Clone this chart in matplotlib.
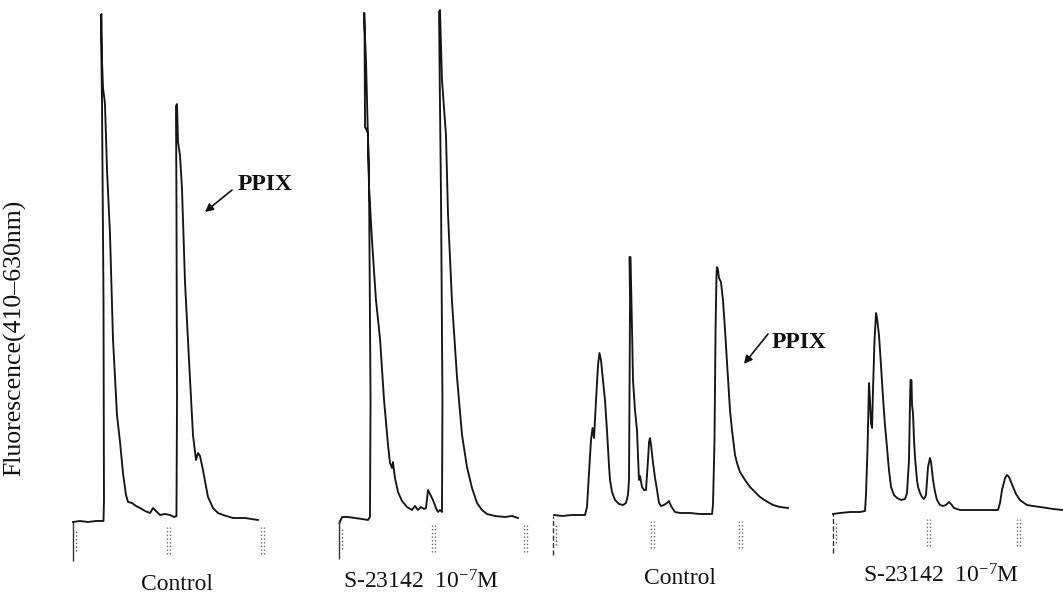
import matplotlib
matplotlib.use("Agg")
import matplotlib.pyplot as plt

plt.rcParams['font.family'] = ['Liberation Serif', 'DejaVu Serif']
plt.rcParams['mathtext.fontset'] = 'custom'
plt.rcParams['mathtext.rm'] = 'Liberation Serif'
plt.rcParams['mathtext.it'] = 'Liberation Serif:italic'

# --- data (time in min, fluorescence in arbitrary units) ---

# panel 1: control
t1 = [0, 0.74, 1.58, 2.42, 3.21, 3.26, 3.21, 3.05, 2.93, 3.0, 3.05, 3.16, 3.32, 3.37,
      3.58, 3.89, 4.21, 4.63, 4.95, 5.26, 5.58, 5.79, 6.21, 6.63, 7.05, 7.58, 8.11,
      8.42, 8.74, 9.16, 9.68, 10.21, 10.63, 10.89, 10.95, 10.89, 10.84, 10.95, 11.05,
      11.26, 11.47, 11.79, 12.21, 12.63, 12.95, 13.16, 13.37, 13.68, 14.21, 14.74,
      15.26, 15.79, 16.84, 18.11, 19.47]
f1 = [-0.2, 0, -0.2, 0, 0, 4.2, 44.2, 84.2, 101.2, 101.4, 92.2, 86.6, 84.2, 83.2,
      70.2, 57.6, 36.4, 21.2, 15.8, 9.6, 5.2, 3.8, 3.6, 3.0, 2.6, 2.0, 1.6,
      2.6, 2.0, 1.2, 1.4, 1.2, 0.8, 1.0, 24.2, 64.2, 83.0, 83.4, 75.8,
      73.2, 66.6, 47.8, 32.2, 17.2, 12.2, 13.6, 13.0, 10.2, 4.8, 2.6,
      1.6, 1.2, 0.6, 0.6, 0.2]
marks1 = [0, 10.0, 19.9]

# panel 2: S-23142 10^-7 M
t2 = [0.05, 0.32, 0.95, 1.68, 2.42, 3.05, 3.26, 3.32, 3.16, 2.84, 2.63, 2.68, 2.74,
      3.05, 3.16, 3.47, 3.89, 4.32, 4.74, 5.16, 5.37, 5.58, 5.68, 5.89, 6.21, 6.63,
      7.16, 7.68, 8.0, 8.32, 8.63, 8.95, 9.16, 9.37, 9.58, 9.89, 10.21, 10.42, 10.63,
      10.84, 10.89, 10.74, 10.58, 10.53, 10.63, 10.84, 11.26, 11.47, 11.89, 12.42,
      12.95, 13.47, 14.0, 14.53, 15.05, 15.58, 16.42, 17.47, 18.21, 18.84]
f2 = [-0.8, 0.4, 0.4, 0.2, 0, -0.2, 0.4, 23.8, 67.8, 91.8, 101.2, 101.2, 78.4,
      77.2, 66.4, 55.8, 43.8, 36.0, 23.8, 14.8, 11.2, 10.2, 11.4, 8.2, 5.4, 3.6,
      2.4, 1.8, 2.6, 1.8, 2.4, 2.0, 2.2, 5.8, 5.0, 3.8, 2.2, 1.4, 1.8,
      1.4, 23.8, 63.8, 91.8, 101.4, 101.8, 87.8, 76.8, 61.2, 43.6, 28.4,
      16.8, 10.4, 6.2, 3.2, 1.8, 1.0, 0.6, 0.4, 0.6, 0.2]
marks2 = [0, 9.89, 19.58]

# panel 3: control
t3 = [0.11, 0.95, 2.0, 3.37, 3.58, 3.79, 4.0, 4.16, 4.32, 4.53, 4.74, 4.89, 5.05,
      5.26, 5.47, 5.68, 5.89, 6.0, 6.21, 6.53, 6.95, 7.37, 7.68, 7.89, 8.0, 8.05,
      8.11, 8.05, 8.16, 8.32, 8.42, 8.63, 8.84, 9.05, 9.16, 9.37, 9.58, 9.79, 10.0,
      10.11, 10.21, 10.32, 10.53, 10.74, 10.95, 11.16, 11.37, 11.68, 12.0, 12.21,
      12.42, 12.84, 13.37, 14.42, 15.47, 16.74, 16.84, 17.0, 17.11, 17.21, 17.26,
      17.37, 17.47, 17.68, 17.89, 18.11, 18.32, 18.63, 18.84, 19.16, 19.37, 19.68,
      20.21, 20.74, 21.26, 21.79, 22.42, 23.16, 23.89, 24.74]
f3 = [0.0, -0.2, 0.0, 0.0, 1.6, 8.4, 15.0, 17.4, 15.4, 23.0, 30.0, 32.4, 31.0,
      27.0, 23.0, 17.0, 10.0, 7.0, 4.6, 3.0, 2.2, 2.0, 2.4, 4.0, 7.0, 23.0,
      43.0, 51.6, 51.6, 37.0, 27.0, 21.0, 17.0, 7.0, 7.8, 5.6, 5.0, 5.0, 11.0,
      14.6, 15.4, 14.0, 10.4, 7.4, 5.0, 2.4, 1.8, 2.0, 2.4, 2.8,
      1.8, 0.6, 0.4, 0.4, 0.2, 0.2, 2.0, 15.0, 37.0, 48.0, 49.6,
      49.0, 47.4, 46.6, 43.0, 37.0, 30.4, 21.0, 17.0, 12.0, 10.4, 8.6,
      7.0, 5.6, 4.6, 3.6, 2.8, 2.0, 1.6, 1.4]
marks3 = [0, 10.42, 19.68]

# panel 4: S-23142 10^-7 M
t4 = [0, 0.74, 1.79, 2.84, 3.37, 3.47, 3.63, 3.79, 3.89, 4.0, 4.11, 4.21, 4.37, 4.53,
      4.63, 4.84, 5.05, 5.26, 5.47, 5.68, 5.89, 6.11, 6.42, 6.74, 7.16, 7.58, 7.79,
      8.0, 8.11, 8.16, 8.26, 8.32, 8.42, 8.53, 8.63, 8.84, 8.95, 9.16, 9.37, 9.58,
      9.79, 10.0, 10.21, 10.32, 10.53, 10.74, 10.95, 11.26, 11.58, 11.89, 12.21,
      12.42, 12.74, 13.37, 14.42, 15.47, 16.53, 17.37, 17.58, 17.79, 18.11, 18.32,
      18.53, 18.74, 18.95, 19.26, 19.68, 20.11, 20.42, 21.05, 21.79, 22.53, 23.16, 24.21]
f4 = [-0.2, 0, 0.2, 0.2, 0.4, 3.6, 12.6, 26.0, 22.6, 18.0, 17.0, 24.6, 34.6, 40.0,
      39.0, 35.6, 29.6, 23.2, 17.6, 13.2, 8.6, 5.2, 3.6, 3.0, 2.6, 2.8, 4.0,
      10.6, 22.6, 26.6, 26.6, 21.6, 20.0, 14.6, 11.2, 6.6, 5.2, 4.0, 3.2, 2.8,
      3.6, 9.2, 11.0, 10.2, 6.6, 4.2, 2.6, 1.6, 1.4, 1.6, 2.2,
      1.8, 1.0, 0.6, 0.6, 0.6, 0.6, 0.6, 2.0, 4.6, 7.0, 7.6,
      7.2, 6.2, 5.2, 3.8, 2.6, 2.0, 1.6, 1.4, 1.2, 1.0, 0.8, 0.6]
marks4 = [0, 10.0, 19.47]

labels = ["Control", "S-23142  10$^{-7}$M", "Control", "S-23142  10$^{-7}$M"]

# --- layout: where each recorder trace sits on the page (pixels) ---
W, H = 1063, 593
PX_MIN = 9.5      # pixels per minute
PX_UNIT = 5.0     # pixels per fluorescence unit
origins = [(73, 521), (339, 519), (553, 515), (833, 513)]   # (t=0 x, baseline y)
label_t = [10.95, 8.63, 13.37, 11.37]

fig = plt.figure(figsize=(W / 100, H / 100), dpi=100)

panels = [(t1, f1, marks1), (t2, f2, marks2), (t3, f3, marks3), (t4, f4, marks4)]
axes = []
for i, (t, f, marks) in enumerate(panels):
    x0, base = origins[i]
    tmin, tmax = -3, 25
    ax = fig.add_axes([(x0 + tmin * PX_MIN) / W, 0, (tmax - tmin) * PX_MIN / W, 1])
    ax.set_xlim(tmin, tmax)
    ax.set_ylim((base - H) / PX_UNIT, base / PX_UNIT)
    ax.axis('off')
    ax.plot(t, f, color='#151515', lw=1.35, solid_joinstyle='round', clip_on=False)
    # injection / time marks below the baseline
    for j, m in enumerate(marks):
        if j == 0:
            ax.vlines(m, -8, -0.2, color='#333333', lw=1.0,
                      linestyles='-' if i < 2 else '--')
            ax.vlines(m + 0.3, -6, -2, color='#555555', lw=1.0, linestyles=':')
        else:
            ax.vlines([m - 0.15, m + 0.2], -6.5, -1.2, color='#666666', lw=1.0,
                      linestyles=':')
    ax.text(label_t[i], -12.6, labels[i], ha='center', va='center', fontsize=17,
            color='#111111')
    axes.append(ax)

# PPIX annotations
axes[0].annotate('', xy=(13.89, 61.8), xytext=(16.74, 66.2),
                 arrowprops=dict(arrowstyle='-|>', color='#111111', lw=1.2,
                                 mutation_scale=12, shrinkA=0, shrinkB=0))
axes[0].text(17.37, 67.2, 'PPIX', fontsize=17, fontweight='bold', va='center',
             ha='left', color='#111111')
axes[2].annotate('', xy=(20.1, 30.2), xytext=(22.63, 36.2),
                 arrowprops=dict(arrowstyle='-|>', color='#111111', lw=1.2,
                                 mutation_scale=12, shrinkA=0, shrinkB=0))
axes[2].text(23.05, 34.4, 'PPIX', fontsize=17, fontweight='bold', va='center',
             ha='left', color='#111111')

fig.text(15 / W, 1 - 338 / H, 'Fluorescence(410\u2013630nm)', rotation=90,
         ha='center', va='center', fontsize=18.5, color='#111111')

fig.savefig('out.png', dpi=100)
